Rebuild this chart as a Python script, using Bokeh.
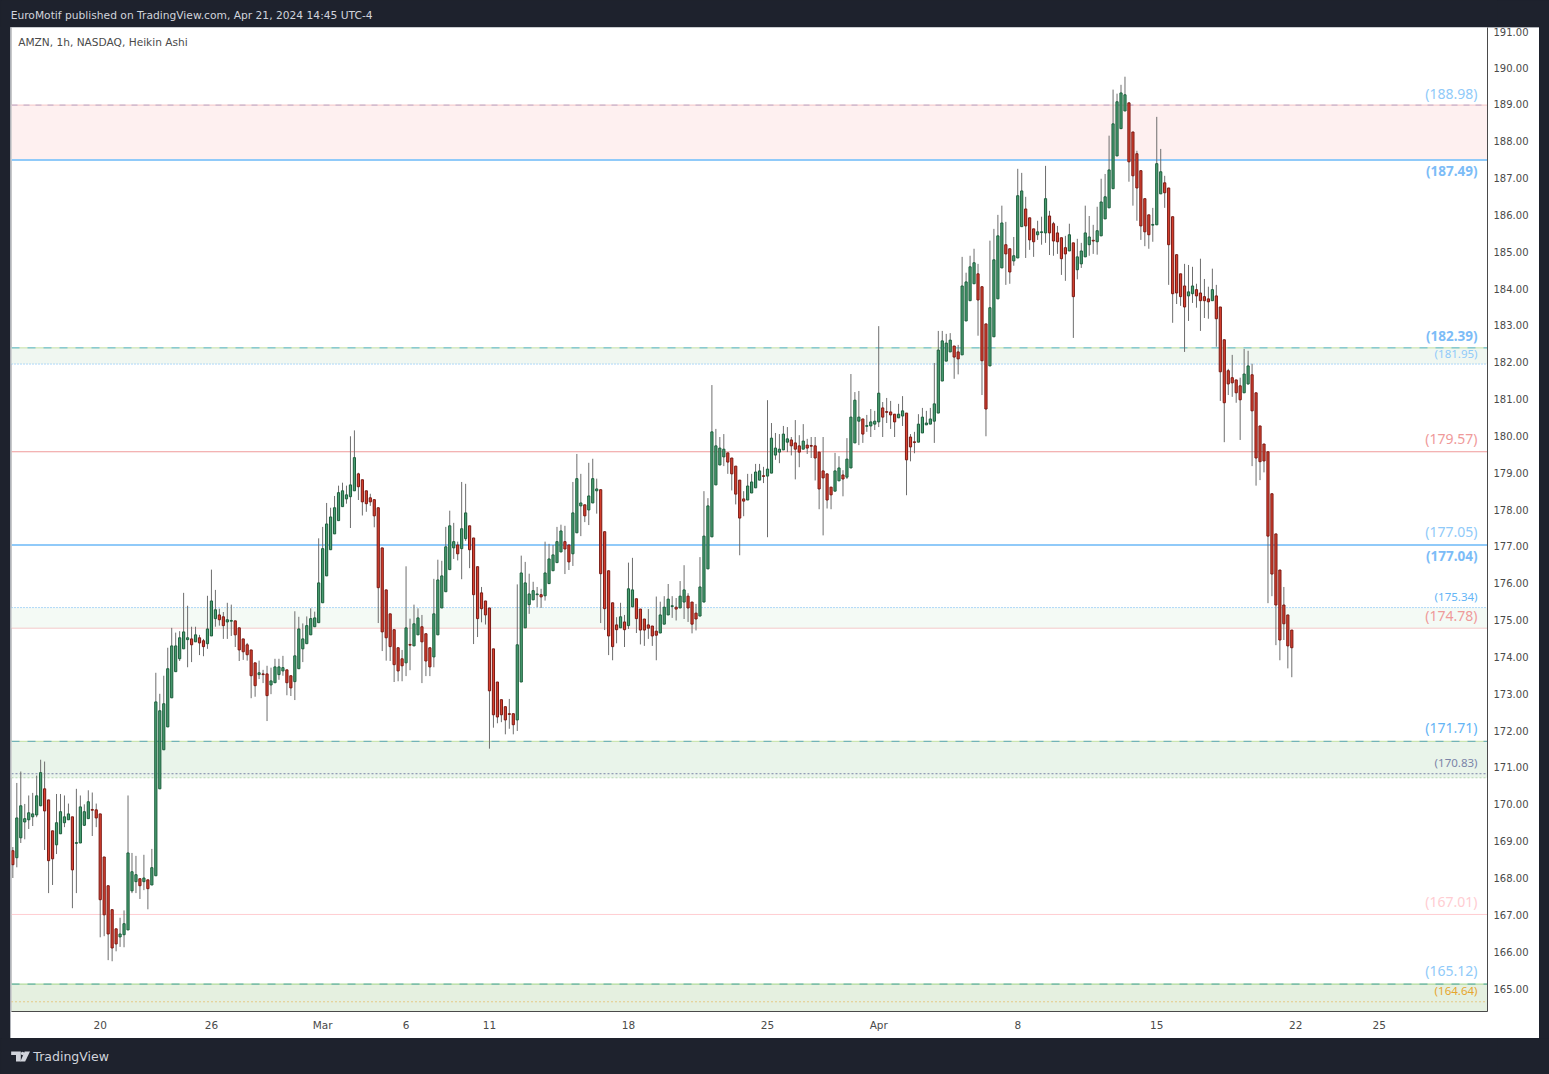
from bokeh.plotting import figure
from bokeh.layouts import column
from bokeh.models import FixedTicker, BoxAnnotation, NumeralTickFormatter, Range1d, Span
from bokeh.core.properties import value
from bokeh.embed import file_html
from bokeh.resources import INLINE

opens = [
168.74,168.55,169.09,169.52,169.58,169.66,169.71,169.96,170.42,170.12,
169.28,168.90,169.20,169.50,169.58,169.66,168.94,168.95,169.43,169.61,
169.86,169.85,169.74,168.57,167.79,167.14,166.62,166.40,166.46,166.59,
167.65,167.90,167.98,167.90,167.95,167.81,168.06,170.42,171.48,172.10,
172.89,173.60,173.95,174.22,174.47,174.49,174.41,174.52,174.44,174.36,
174.57,175.04,175.14,175.09,174.95,174.97,174.98,174.79,174.49,174.33,
174.19,173.84,173.52,173.54,173.54,173.24,173.30,173.52,173.62,173.65,
173.49,173.33,173.68,174.22,174.36,174.60,174.82,174.93,175.47,176.20,
176.91,177.34,177.70,178.08,178.29,178.35,178.51,178.97,178.81,178.51,
178.32,178.27,178.05,176.96,175.82,175.17,174.74,174.25,173.95,173.84,
174.34,174.30,174.60,174.82,174.63,174.25,174.00,174.60,175.33,175.77,
176.37,176.96,177.04,176.94,177.21,177.56,177.23,176.45,175.74,175.52,
175.33,174.22,173.32,172.84,172.65,172.46,172.46,172.29,173.32,174.79,
175.42,175.55,175.69,175.69,175.66,175.99,176.34,176.56,176.85,177.13,
177.04,176.80,177.37,178.10,178.13,177.99,178.18,178.51,178.54,177.40,
176.34,175.47,174.87,174.79,174.95,174.85,175.36,175.58,175.30,175.03,
174.87,174.84,174.70,174.65,174.89,175.14,175.37,175.35,175.33,175.49,
175.65,175.49,175.19,175.11,175.49,176.39,177.26,178.67,179.21,179.43,
179.54,179.40,179.18,178.80,178.29,178.26,178.45,178.59,178.80,178.92,
178.91,178.99,179.48,179.56,179.62,179.83,179.89,179.81,179.73,179.64,
179.75,179.74,179.73,179.56,179.05,178.97,178.61,178.50,178.78,178.94,
178.88,179.13,179.81,180.40,180.46,180.26,180.27,180.32,180.38,180.76,
180.66,180.65,180.59,180.49,180.54,180.62,179.97,179.84,179.83,180.08,
180.30,180.32,180.40,180.62,181.49,182.03,182.28,182.44,182.28,182.20,
183.12,183.67,184.13,184.40,184.05,183.04,181.90,182.69,183.72,184.56,
185.19,185.08,184.75,184.83,185.68,186.16,185.92,185.62,185.46,185.52,
185.51,185.97,185.76,185.51,185.38,185.11,185.02,185.24,184.51,184.67,
184.86,185.19,185.31,185.27,185.43,185.89,186.19,186.71,187.60,188.34,
188.82,189.04,188.25,187.66,187.20,186.44,186.00,185.72,185.73,186.57,
186.87,186.73,185.95,184.92,184.40,184.07,183.80,183.86,183.97,183.88,
183.78,183.72,183.67,183.80,183.50,182.61,181.77,181.58,181.52,181.36,
181.17,181.41,181.66,181.17,180.27,179.78,179.57,178.43,177.34,176.36,
175.41,175.14,174.73]

closes = [
168.36,169.63,169.96,169.61,169.77,169.74,170.23,170.86,169.82,168.47,
168.52,169.50,169.80,169.66,169.74,168.22,168.96,169.93,169.80,170.07,
169.84,169.63,167.41,167.00,166.48,166.10,166.21,166.48,166.76,168.68,
168.17,168.09,167.79,168.00,167.71,168.28,172.78,172.54,172.73,173.68,
174.30,174.30,174.52,174.68,174.52,174.33,174.60,174.38,174.28,174.76,
175.52,175.28,175.01,174.85,175.01,174.99,174.60,174.19,174.14,174.06,
173.49,173.22,173.57,173.52,172.95,173.35,173.73,173.73,173.71,173.30,
173.16,174.03,174.76,174.49,174.85,175.04,175.06,176.01,176.94,177.61,
177.80,178.05,178.46,178.51,178.40,178.67,179.41,178.62,178.21,178.16,
178.21,177.83,175.88,174.68,174.52,174.28,173.79,173.62,173.76,174.79,
174.32,174.90,175.06,174.41,173.89,173.73,175.17,176.09,176.20,176.99,
177.56,177.13,176.80,177.48,177.91,176.91,175.69,175.04,175.31,175.14,
173.08,172.43,172.37,172.43,172.29,172.44,172.16,174.33,176.28,176.01,
175.71,175.80,175.71,175.63,176.28,176.66,176.77,177.13,177.42,176.93,
176.58,177.91,178.84,178.18,177.83,178.37,178.84,178.56,176.26,175.31,
174.57,174.28,174.74,175.09,174.74,175.85,175.82,175.04,174.73,174.73,
174.78,174.57,174.59,175.14,175.35,175.57,175.39,175.30,175.65,175.82,
175.33,174.89,175.03,175.90,177.28,178.10,180.11,179.73,179.67,179.64,
179.29,178.97,178.42,177.77,178.23,178.64,178.75,179.02,179.05,178.90,
179.10,179.94,179.67,179.64,180.05,179.92,179.73,179.64,179.56,179.86,
179.67,179.72,179.40,178.56,178.86,178.26,178.40,179.05,179.13,178.83,
179.37,180.51,180.97,180.51,180.05,180.28,180.38,180.40,181.16,180.51,
180.64,180.57,180.38,180.59,180.68,179.35,179.70,179.82,180.32,180.51,
180.35,180.46,180.87,182.33,182.58,182.52,182.60,182.14,182.09,184.07,
184.18,184.59,184.70,183.69,182.04,180.73,183.48,184.78,185.43,185.78,
184.94,184.45,184.89,186.52,186.65,185.70,185.32,185.27,185.54,185.54,
186.44,185.51,185.29,185.27,184.81,184.94,185.46,183.78,184.86,185.02,
185.51,185.40,185.29,185.57,186.35,186.49,187.22,188.47,189.07,189.31,
189.26,187.44,187.06,186.73,185.70,185.54,185.46,185.74,187.39,187.17,
186.60,185.19,183.86,183.88,183.78,183.50,183.91,184.07,183.80,183.67,
183.67,183.64,183.97,183.18,181.74,180.90,181.41,181.44,181.17,180.98,
181.68,181.90,180.68,179.40,179.30,179.32,177.28,176.25,175.41,174.46,
174.90,174.30,174.25]

highs = [
168.84,170.58,170.89,170.01,170.24,170.31,170.78,171.21,171.16,170.12,
169.28,170.28,170.28,170.24,170.02,169.66,170.42,170.24,170.00,170.38,
170.32,170.02,169.74,168.57,167.79,167.14,166.62,166.92,167.12,170.24,
168.68,168.60,167.98,168.63,167.95,168.79,173.57,173.00,173.49,174.25,
174.79,174.66,174.70,175.74,175.39,174.82,174.82,174.60,174.49,175.66,
176.37,175.82,175.31,175.22,175.47,175.42,174.98,174.79,174.49,174.38,
174.19,173.84,173.90,173.65,173.76,173.71,173.95,173.95,174.03,173.65,
173.49,175.24,175.09,174.91,175.10,175.32,175.23,177.22,177.53,178.18,
178.05,178.37,178.65,178.73,178.65,179.99,180.15,179.00,178.81,178.51,
178.43,178.27,178.05,176.96,175.82,175.17,174.74,174.25,174.19,176.46,
175.04,175.42,175.32,175.14,174.63,174.25,176.12,176.64,176.61,177.53,
177.97,177.64,177.13,178.75,178.70,177.56,177.23,176.45,175.90,175.52,
175.33,174.22,173.32,172.84,172.65,172.86,172.46,175.97,176.75,176.58,
176.26,176.04,175.90,175.85,177.13,177.07,177.04,177.53,177.59,177.56,
177.04,178.75,179.51,178.97,178.13,179.27,179.38,178.84,178.54,177.40,
176.34,175.47,175.08,175.47,175.14,176.56,176.69,175.58,175.30,175.03,
175.30,174.84,175.64,175.50,175.65,175.98,175.65,175.60,176.06,176.49,
175.73,175.49,175.44,176.71,178.50,178.31,181.38,180.19,179.97,180.05,
179.54,179.40,179.18,178.80,178.50,178.97,178.97,179.24,179.24,179.16,
180.97,180.35,180.08,180.05,180.27,180.24,179.97,180.43,180.02,180.32,
179.92,179.97,179.97,179.56,179.97,178.97,178.61,179.54,179.45,179.07,
179.94,181.68,181.19,181.22,180.46,180.57,180.73,180.68,182.98,180.92,
181.03,180.95,180.59,180.87,181.08,180.62,180.05,180.11,180.59,180.76,
180.68,180.76,181.98,182.85,182.85,182.77,182.79,182.44,182.47,184.86,
184.43,184.89,185.08,184.67,184.05,183.04,185.30,185.62,186.00,186.25,
185.81,185.08,185.40,187.25,187.14,186.49,185.92,185.62,185.84,185.95,
187.33,186.11,185.81,185.70,185.38,185.43,185.76,185.24,185.35,185.24,
186.25,185.97,185.73,186.22,186.98,187.11,188.15,189.40,189.29,189.53,
189.75,189.04,188.25,187.74,187.20,186.44,186.00,186.19,188.66,187.79,
187.06,186.73,185.95,184.92,184.40,184.67,184.64,184.59,184.13,184.81,
184.26,184.05,184.54,184.10,183.50,182.61,181.82,182.20,181.52,181.58,
182.36,182.31,181.96,181.17,180.27,179.78,179.57,178.43,177.34,176.36,
175.90,175.14,174.73]

lows = [
168.00,168.29,168.95,169.05,169.33,169.41,169.65,169.95,168.76,167.59,
167.81,168.65,169.20,169.38,169.58,167.18,167.59,168.95,169.41,169.61,
169.14,169.38,166.39,166.42,165.77,165.74,166.01,166.13,166.12,166.59,
167.59,167.59,167.43,167.67,167.15,167.81,168.06,170.42,171.48,172.10,
172.89,173.60,173.89,174.22,173.72,173.86,174.41,174.05,174.02,174.22,
174.57,174.82,174.85,174.49,174.49,174.57,174.27,173.89,173.92,173.90,
172.88,172.92,173.40,173.29,172.26,172.99,173.30,173.38,173.49,172.96,
172.94,172.83,173.68,173.86,174.36,174.60,174.82,174.93,175.47,176.20,
176.91,177.34,177.70,178.08,178.16,177.50,178.51,178.26,177.84,177.94,
178.10,177.52,174.92,174.16,173.90,173.89,173.32,173.34,173.34,173.48,
173.64,174.30,174.60,173.29,173.48,173.48,173.72,174.60,175.33,175.77,
176.37,176.66,176.62,176.11,177.15,176.41,174.35,174.54,174.94,174.88,
171.51,172.08,172.20,172.23,171.90,172.05,171.90,171.99,173.32,174.79,
175.17,175.55,175.35,175.33,175.53,175.99,176.34,176.56,176.85,176.25,
176.36,176.47,177.37,177.28,177.66,177.58,178.18,177.89,174.92,174.73,
174.05,173.91,174.37,174.79,174.27,174.76,175.36,174.65,174.34,174.30,
174.49,174.30,173.91,174.65,174.89,175.14,175.06,174.99,175.33,175.03,
174.95,174.64,174.72,175.11,175.49,176.39,177.26,178.67,179.21,179.18,
178.97,178.52,178.14,176.76,177.82,178.26,178.45,178.59,178.80,178.72,
177.25,178.99,179.35,179.26,179.62,179.56,179.47,178.82,179.15,179.64,
179.51,179.40,178.79,178.01,177.30,178.03,178.01,178.50,178.78,178.36,
178.83,179.13,179.81,179.75,179.81,180.11,179.97,180.16,180.24,179.97,
180.35,180.19,179.97,180.49,180.27,178.39,179.31,179.53,179.83,180.08,
180.30,180.32,179.81,180.62,181.49,182.03,182.28,181.55,181.67,182.20,
183.12,183.67,184.13,182.72,181.11,179.99,181.90,182.69,183.72,184.56,
184.10,184.13,184.62,184.83,185.68,184.83,185.05,184.86,185.32,185.19,
185.24,184.91,184.89,184.94,184.37,184.21,185.02,182.66,184.25,184.56,
184.86,184.89,184.94,184.92,185.43,185.89,186.19,186.71,187.60,188.34,
188.82,186.90,186.25,185.84,185.32,185.15,185.08,185.27,185.73,186.57,
186.19,184.10,183.07,183.58,183.53,182.28,183.12,183.61,183.48,182.85,
183.20,183.18,183.67,182.42,180.95,179.83,181.11,181.06,180.90,179.89,
181.17,181.39,179.18,178.65,178.80,179.01,175.46,175.65,174.32,173.91,
174.46,173.69,173.45]

time_ticks = [22, 50, 78, 99, 120, 155, 190, 218, 253, 288, 323, 344]
time_labels = ["20", "26", "Mar", "6", "11", "18", "25", "Apr", "8", "15", "22", "25"]
price_ticks = list(range(165, 192))

zone_tops = [188.98, 182.39, 175.34, 171.71, 165.12]
zone_bottoms = [187.49, 181.95, 174.78, 170.72, 164.30]
zone_fills = ["#fef0f0", "#f0f7f1", "#f4faf5", "#e9f4ea", "#e5f0e0"]

line_prices = [188.98, 188.98, 187.49, 182.39, 182.39, 181.95, 179.57, 177.04, 175.34,
               174.78, 171.71, 171.71, 170.83, 170.72, 167.01, 165.12, 165.12, 164.64]
line_colors = ["#f5c6c6", "#b9a9c9", "#90caf9", "#c5e1a5", "#5fb8d6", "#64b5f6", "#ef9a9a", "#90caf9", "#64b5f6",
               "#ef9a9a", "#c5e1a5", "#5fa8b8", "#7b85a8", "#b5d6b0", "#ffcdd2", "#a5d68a", "#4fa8a8", "#e6a52e"]
line_widths = [1, 1, 2, 1, 1, 1, 1, 2, 1, 1, 1, 1, 1, 1, 1, 1, 1, 1]
line_dashes = ["solid", "6 6", "solid", "solid", "8 8", "1 2", "solid", "solid", "1 2",
               "1 1", "solid", "8 8", "2 2", "2 2", "solid", "solid", "8 8", "1 3"]

label_prices = [188.98, 187.49, 182.39, 181.95, 179.57, 177.05, 177.04, 175.34, 174.78,
                171.71, 170.83, 167.01, 165.12, 164.64]
label_colors = ["#90caf9", "#7cbcf7", "#7cbcf7", "#90caf9", "#ef9a9a", "#90caf9", "#7cbcf7", "#64b5f6", "#ef9a9a",
                "#64b5f6", "#7b85a8", "#ffcdd2", "#90caf9", "#e6a52e"]
label_sizes = ["14px", "13.5px", "13.5px", "11.5px", "14px", "14px", "13.5px", "11.5px", "14px",
               "14px", "11.5px", "14px", "14px", "11.5px"]
label_weights = ["normal", "bold", "bold", "normal", "normal", "normal", "bold", "normal", "normal",
                 "normal", "normal", "normal", "normal", "normal"]
label_offsets = [-12, 11, -12, -11, -13, -13, 11, -11, -13, -14, -11, -13, -14, -11]

DARK = "#1e222d"
n = len(opens)
xs = list(range(n))

# --- header strip ---
head = figure(width=1549, height=27, output_backend="svg", toolbar_location=None, tools="",
              x_range=Range1d(0, 1549), y_range=Range1d(27, 0), min_border=0, outline_line_color=None)
head.axis.visible = False
head.grid.visible = False
head.background_fill_color = DARK
head.border_fill_color = DARK
head.text(x=[9.5], y=[14.5], text=["EuroMotif published on TradingView.com, Apr 21, 2024 14:45 UTC-4"],
          text_color="#d1d4dc", text_baseline="middle", text_font=value("DejaVu Sans"), text_font_size=value("10.7px"))

# --- main chart ---
PAD_LEFT, FRAME_W, FRAME_H = 1, 1476, 984
W, H = 1529, 1011
p = figure(width=W, height=H, output_backend="svg", toolbar_location=None, tools="",
           x_range=Range1d(-0.335, 371.27), y_range=Range1d(164.376, 191.086), y_axis_location="right",
           min_border_left=PAD_LEFT, min_border_top=0, min_border_right=W - PAD_LEFT - FRAME_W,
           min_border_bottom=H - FRAME_H, margin=(0, 10, 0, 10),
           styles={"outline": "1px solid #9598a1", "outline-offset": "-1px"})
p.frame_width = FRAME_W
p.frame_height = FRAME_H
p.background_fill_color = "#ffffff"
p.border_fill_color = "#ffffff"
p.grid.visible = False
p.outline_line_color = None

for t, b, c in zip(zone_tops, zone_bottoms, zone_fills):
    p.add_layout(BoxAnnotation(top=t, bottom=b, fill_color=c, fill_alpha=1, line_color=None, level="underlay"))
for price, c, w, d in zip(line_prices, line_colors, line_widths, line_dashes):
    p.add_layout(Span(location=price, dimension="width", line_color=c, line_width=w, line_dash=d, level="underlay"))

yax = p.yaxis[0]
yax.ticker = FixedTicker(ticks=price_ticks)
yax.formatter = NumeralTickFormatter(format="0.00")
xax = p.xaxis[0]
xax.ticker = FixedTicker(ticks=time_ticks)
xax.major_label_overrides = dict(zip(time_ticks, time_labels))
for ax in (xax, yax):
    ax.major_tick_line_color = None
    ax.minor_tick_line_color = None
    ax.major_tick_out = 0
    ax.major_tick_in = 0
    ax.axis_line_color = "#4a4a4a"
    ax.axis_line_width = 1
    ax.major_label_text_color = "#4a4a4a"
    ax.major_label_text_font = "DejaVu Sans"
    ax.major_label_text_font_size = "10px"
    ax.major_label_standoff = 6
xax.major_label_text_font_size = "10.5px"
xax.major_label_standoff = 7

up = [i for i in xs if closes[i] >= opens[i]]
down = [i for i in xs if closes[i] < opens[i]]

p.segment(xs, highs, xs, lows, line_color="#6e6e6e", line_width=1)
p.vbar(x=up, width=0.55, top=[closes[i] for i in up], bottom=[opens[i] for i in up],
       fill_color="#4a9e72", line_color="#1c5e3c", line_width=1)
p.vbar(x=down, width=0.55, top=[opens[i] for i in down], bottom=[closes[i] for i in down],
       fill_color="#d8402f", line_color="#7a1a14", line_width=1)

label_x = 368.75
for price, c, s, wt, off in zip(label_prices, label_colors, label_sizes, label_weights, label_offsets):
    p.text(x=[label_x], y=[price], text=[f"({price:.2f})"], text_color=c, text_align="right",
           text_baseline="middle", text_font=value("Noto Sans"), text_font_size=value(s),
           text_font_style=wt, y_offset=off)
p.text(x=[1.35], y=[190.69], text=["AMZN, 1h, NASDAQ, Heikin Ashi"], text_color="#4a4a4a",
       text_baseline="middle", text_font=value("DejaVu Sans"), text_font_size=value("10.6px"))

# --- footer strip ---
foot = figure(width=1549, height=36, output_backend="svg", toolbar_location=None, tools="",
              x_range=Range1d(0, 1549), y_range=Range1d(1074, 1038), min_border=0, outline_line_color=None)
foot.axis.visible = False
foot.grid.visible = False
foot.background_fill_color = DARK
foot.border_fill_color = DARK
foot.patch([10, 20, 20, 15, 15, 10], [1051, 1051, 1061, 1061, 1054.5, 1054.5], fill_color="#d1d4dc", line_color=None)
foot.circle(x=[21.8], y=[1053], radius=1.7, fill_color="#d1d4dc", line_color=None)
foot.patch([24, 29.5, 24.5, 19.5], [1051, 1051, 1061, 1061], fill_color="#d1d4dc", line_color=None)
foot.text(x=[33], y=[1056], text=["TradingView"], text_color="#d1d4dc", text_baseline="middle",
          text_font=value("DejaVu Sans"), text_font_size=value("12.5px"))

layout = column(head, p, foot, spacing=0)
html = file_html(layout, INLINE)
html = html.replace("</head>", "<style>html,body{margin:0;background:%s;overflow:hidden}</style></head>" % DARK)
open("out.html", "w").write(html)
